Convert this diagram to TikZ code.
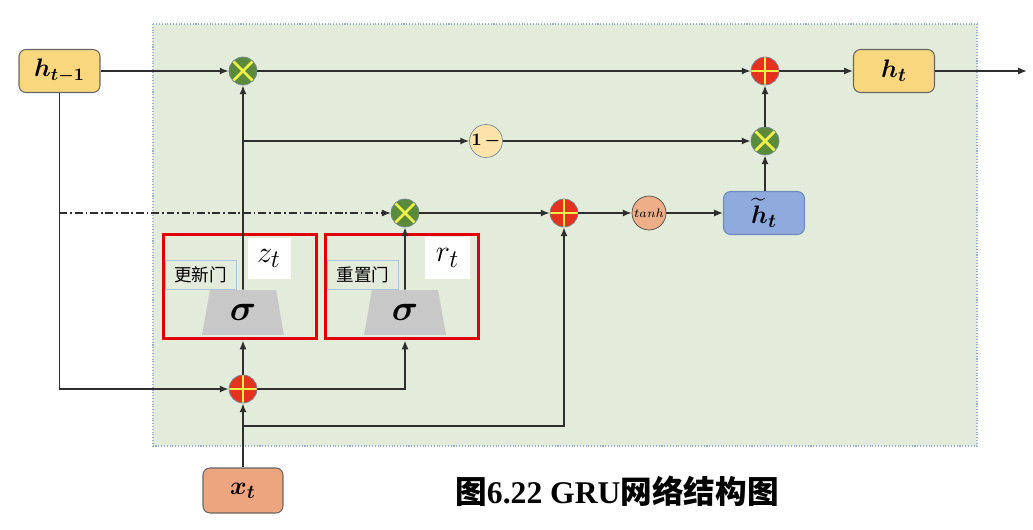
\documentclass[tikz,border=0pt]{standalone}
\usepackage{amsmath,bm}
\usepackage{fontspec}
\setmainfont{Liberation Serif}
\newfontfamily\cjk{Noto Sans CJK SC}
\usetikzlibrary{arrows.meta,shapes.geometric}
\definecolor{bggreen}{HTML}{E3ECDA}
\definecolor{bgborder}{HTML}{9AB0C8}
\definecolor{hyellow}{HTML}{F9D77F}
\definecolor{xorange}{HTML}{EDA57F}
\definecolor{hblue}{HTML}{8FAADC}
\definecolor{hbluedark}{HTML}{6F8BBF}
\definecolor{oneyel}{HTML}{FCE3AA}
\definecolor{tanhc}{HTML}{EDAE88}
\definecolor{multgreen}{HTML}{5A8A3A}
\definecolor{xyellow}{HTML}{EEF04A}
\definecolor{plusred}{HTML}{E5321F}
\definecolor{linec}{HTML}{2E2E2E}
\definecolor{gatered}{HTML}{E00000}
\definecolor{lblue}{HTML}{A9C4DE}
\definecolor{sigmagray}{HTML}{C8C8C8}
\definecolor{circborder}{HTML}{7A8A9A}
\tikzset{
  vbox/.style={rounded corners=4pt, draw=gray!80!black, line width=0.6pt,
    minimum width=1.62cm, minimum height=0.86cm, inner sep=0,
    font=\fontsize{15}{18}\selectfont},
  mult/.style={circle, draw=circborder, line width=0.4pt, fill=multgreen,
    minimum size=0.56cm, inner sep=0,
    path picture={\draw[xyellow, line width=1.6pt]
      (path picture bounding box.north west) -- (path picture bounding box.south east)
      (path picture bounding box.north east) -- (path picture bounding box.south west);}},
  plus/.style={circle, draw=circborder, line width=0.4pt, fill=plusred,
    minimum size=0.56cm, inner sep=0,
    path picture={\draw[xyellow, line width=1.6pt]
      (path picture bounding box.north) -- (path picture bounding box.south)
      (path picture bounding box.west) -- (path picture bounding box.east);}},
  conn/.style={draw=linec, line width=0.9pt, -{Latex[length=5pt,width=4pt]}},
  gatebox/.style={draw=gatered, line width=1.7pt, minimum height=2.1cm, inner sep=0},
  gatelbl/.style={draw=lblue, line width=0.5pt, minimum width=1.42cm, minimum height=0.58cm,
    inner sep=0, font=\cjk\fontsize{10}{12}\selectfont},
  outlbl/.style={fill=white, minimum width=0.86cm, minimum height=0.84cm, inner sep=0,
    font=\fontsize{19}{22}\selectfont},
  sig/.style={trapezium, trapezium stretches=true, fill=sigmagray, draw=none,
    minimum width=1.64cm, minimum height=0.9cm, trapezium left angle=79,
    trapezium right angle=79, inner sep=0, font=\fontsize{20}{24}\selectfont}
}
\begin{document}
\begin{tikzpicture}[x=0.02cm,y=-0.02cm]
\useasboundingbox (0,0) rectangle (1033,530);
\fill[bggreen] (153,24) rectangle (977,446);
\draw[bgborder, densely dotted, line width=0.6pt] (153,24) rectangle (977,446);

% nodes
\node[vbox, fill=hyellow, font=\fontsize{14}{17}\selectfont] (ht1) at (59.5,71) {$\bm{h_{t-1}}$};
\node[mult] (mt) at (243,71) {};
\node[plus] (at) at (765,71) {};
\node[vbox, fill=hyellow] (ht) at (894,71) {$\bm{h_t}$};
\node[circle, draw=circborder, line width=0.4pt, fill=oneyel, minimum size=0.66cm, inner sep=0,
  font=\fontsize{10}{12}\selectfont] (om) at (486,141) {$\bm{1\,-}$};
\node[mult] (mr) at (765,141) {};
\node[mult] (mm) at (405,213) {};
\node[plus] (am) at (564,213) {};
\node[circle, draw=gray!60!black, line width=0.4pt, fill=tanhc, minimum size=0.68cm, inner sep=0,
  font=\fontsize{7.5}{9}\selectfont] (th) at (649,213) {$tanh$};
\node[vbox, fill=hblue, draw=hbluedark] (htl) at (764,213) {$\widetilde{\bm{h}}_{\bm{t}}$};
\node[plus] (ab) at (243,389) {};
\node[vbox, fill=xorange, minimum width=1.6cm, minimum height=0.9cm] (xt) at (243,490.5) {$\bm{x_t}$};

% gates
\node[gatelbl] (l1) at (200.5,275) {更新门};
\node[gatelbl] (l2) at (363,275) {重置门};
\node[outlbl] (zl) at (269,258.5) {$z_t$};
\node[outlbl, minimum width=0.9cm] (rl) at (447.5,258) {$r_t$};
\node[sig] (s1) at (243,312.5) {$\bm{\sigma}$};
\node[sig] (s2) at (405,312.5) {$\bm{\sigma}$};
\node[gatebox, minimum width=3.08cm] (g1) at (240,286.5) {};
\node[gatebox, minimum width=3.06cm] (g2) at (402,286.5) {};

% caption
\node[font=\fontsize{18}{21}\selectfont\bfseries] (cap) at (617,491)
  {{\cjk 图}6.22 GRU{\cjk 网络结构图}};

% connectors
\coordinate (xb) at (243,426);
\coordinate (out) at (1027,71);
\draw[conn] (ht1.east) -- (mt.west);
\draw[conn] (ht1.south) |- (ab.west);
\draw[conn, line width=0.6pt, dash pattern=on 4.5pt off 1.6pt on 1pt off 1.6pt] (ht1.south |- mm.west) -- (mm.west);
\draw[conn] (xt.north) -- (ab.south);
\draw[conn] (xb) -| (am.south);
\draw[conn] (ab.north) -- (ab.north |- g1.south);
\draw[conn] (s1.north) -- (mt.south);
\draw[conn] (ab.east) -| (s2.south |- g2.south);
\draw[conn] (s2.north) -- (mm.south);
\draw[conn] (mt.south |- om) -- (om.west);
\draw[conn] (om.east) -- (mr.west);
\draw[conn] (mt.east) -- (at.west);
\draw[conn] (mm.east) -- (am.west);
\draw[conn] (am.east) -- (th.west);
\draw[conn] (th.east) -- (htl.west);
\draw[conn] (mr.south |- htl.north) -- (mr.south);
\draw[conn] (mr.north) -- (at.south);
\draw[conn] (at.east) -- (ht.west);
\draw[conn] (ht.east) -- (out);
\end{tikzpicture}
\end{document}
